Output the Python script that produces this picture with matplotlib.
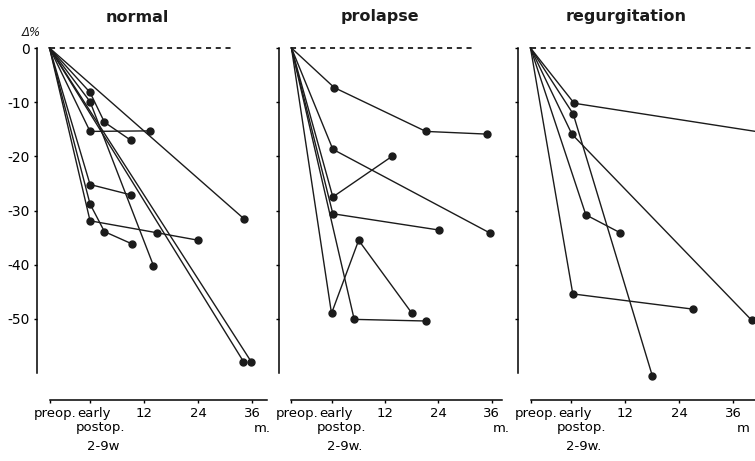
import matplotlib
matplotlib.use("Agg")
import matplotlib.pyplot as plt

plt.rcParams["font.family"] = ["DejaVu Sans"]
plt.rcParams["axes.unicode_minus"] = False

# x positions: preop shown left of the early postop (2-9 weeks) mark, then months
PRE = -9
x_ticks = [PRE, 0, 12, 24, 36]
x_tick_labels = ["", "", "12", "24", "36"]
y_ticks = [0, -10, -20, -30, -40, -50]
y_tick_labels = ["0", "-10", "-20", "-30", "-40", "-50"]

titles = ["normal", "prolapse", "regurgitation"]
early_labels = ["2-9w", "2-9w.", "2-9w."]
month_labels = ["m.", "m.", "m"]

# each series: (months, delta %)
normal_series = [
    ([PRE, 0, 3.2, 9.0], [0, -8.2, -13.7, -17.0]),
    ([PRE, 0, 14.1], [0, -9.9, -40.2]),
    ([PRE, 0, 13.3], [0, -15.4, -15.3]),
    ([PRE, 34.3], [0, -31.6]),
    ([PRE, 0, 9.0], [0, -25.2, -27.1]),
    ([PRE, 0, 3.2, 9.4], [0, -28.8, -33.9, -36.2]),
    ([PRE, 0, 14.8, 24.1], [0, -31.9, -34.1, -35.5]),
    ([PRE, 34.1], [0, -57.9]),
    ([PRE, 35.8], [0, -57.9]),
]

prolapse_series = [
    ([PRE, 0.6, 21.2, 35.0], [0, -7.3, -15.4, -15.9]),
    ([PRE, 0.3, 35.7], [0, -18.7, -34.2]),
    ([PRE, 0.3, 13.6], [0, -27.5, -20.0]),
    ([PRE, 0.3, 24.1], [0, -30.6, -33.6]),
    ([PRE, 0, 6.1, 18.1], [0, -49.0, -35.5, -49.0]),
    ([PRE, 5.1, 21.2], [0, -50.1, -50.4]),
]

regurgitation_series = [
    ([PRE, 0.7, 48.0], [0, -10.2, -16.3]),
    ([PRE, 0.5, 18.1], [0, -12.2, -60.6]),
    ([PRE, 0.2, 40.2], [0, -15.9, -50.3]),
    ([PRE, 3.3, 10.9], [0, -30.8, -34.1]),
    ([PRE, 0.4, 27.0], [0, -45.4, -48.2]),
]

all_series = [normal_series, prolapse_series, regurgitation_series]

W, H = 755, 461
INK = "#1b1b1b"

# layout in pixels: (left px, px per month, xlim, end of dashed zero line)
panels = [
    (37.4, 4.50, (-11.7, 39.3), 31.5),
    (279.0, 4.45, (-11.8, 38.3), 31.5),
    (517.9, 4.50, (-11.8, 45.0), 45.0),
]
title_x = [137.7, 380.0, 625.8]
AX_TOP, AX_BOTTOM = 48, 373


def draw_panel(fig, idx):
    left, scale, xlim, dash_end = panels[idx]
    width = (xlim[1] - xlim[0]) * scale
    ax = fig.add_axes([left / W, 1 - AX_BOTTOM / H, width / W,
                       (AX_BOTTOM - AX_TOP) / H])
    ax.set_xlim(*xlim)
    ax.set_ylim(-60, 0)

    ax.plot([PRE, dash_end], [0, 0], color=INK, lw=1.3,
            dashes=(2.8, 2.6), clip_on=False)

    for xs, ys in all_series[idx]:
        ax.plot(xs, ys, color=INK, lw=1.0, clip_on=False)
        ax.plot(xs[1:], ys[1:], "o", color=INK, ms=5, clip_on=False)

    for side in ["top", "right"]:
        ax.spines[side].set_visible(False)
    ax.spines["left"].set_linewidth(1.1)
    ax.spines["bottom"].set_linewidth(1.1)
    ax.spines["bottom"].set_position(("outward", 19.4))
    ax.spines["bottom"].set_bounds(PRE, xlim[1])

    ax.set_yticks(y_ticks)
    if idx == 0:
        ax.set_yticklabels(y_tick_labels)
    else:
        ax.set_yticklabels([])
    ax.tick_params(axis="y", direction="out", length=2.5, width=1,
                   pad=3, labelsize=10)
    ax.set_yticks([0], minor=True)
    ax.tick_params(axis="y", which="minor", direction="in", length=4, width=1)

    ax.set_xticks(x_ticks)
    ax.set_xticklabels(x_tick_labels)
    ax.tick_params(axis="x", direction="out", length=2, width=1,
                   pad=3, labelsize=9.5)

    tr = ax.get_xaxis_transform()
    fs = 9.5
    ax.annotate("preop.", (PRE, 0), xycoords=tr, xytext=(6, -40),
                textcoords="offset pixels", ha="center", va="center",
                fontsize=fs, annotation_clip=False)
    ax.annotate("early", (0, 0), xycoords=tr, xytext=(4, -40),
                textcoords="offset pixels", ha="center", va="center",
                fontsize=fs, annotation_clip=False)
    ax.annotate("postop.", (0, 0), xycoords=tr, xytext=(10, -54),
                textcoords="offset pixels", ha="center", va="center",
                fontsize=fs, annotation_clip=False)
    ax.annotate(early_labels[idx], (0, 0), xycoords=tr, xytext=(13, -74),
                textcoords="offset pixels", ha="center", va="center",
                fontsize=fs, annotation_clip=False)
    ax.annotate(month_labels[idx], (36, 0), xycoords=tr, xytext=(10, -56),
                textcoords="offset pixels", ha="center", va="center",
                fontsize=fs, annotation_clip=False)

    fig.text(title_x[idx] / W, 1 - 17 / H, titles[idx], ha="center",
             va="center", fontsize=11.5, fontweight="bold", color=INK)
    return ax


fig = plt.figure(figsize=(W / 100, H / 100), dpi=100)
for i in range(3):
    draw_panel(fig, i)
fig.text(31 / W, 1 - 32 / H, "Δ%", ha="center", va="center",
         fontsize=8.5, style="italic", color=INK)

fig.savefig("out.png", dpi=100)
plt.close(fig)
